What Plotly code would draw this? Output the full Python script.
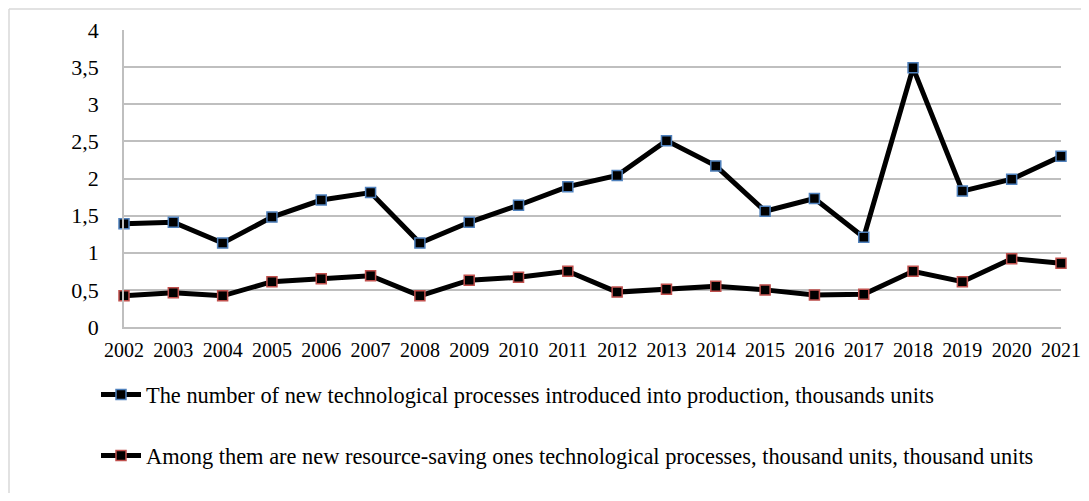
import plotly.graph_objects as go

years = list(range(2002, 2022))
processes = [1.39, 1.41, 1.13, 1.48, 1.71, 1.81, 1.13, 1.41, 1.64, 1.89,
             2.04, 2.51, 2.17, 1.56, 1.73, 1.21, 3.49, 1.83, 1.99, 2.30]
resource_saving = [0.42, 0.46, 0.42, 0.61, 0.65, 0.69, 0.42, 0.63, 0.67, 0.75,
                   0.47, 0.51, 0.55, 0.50, 0.43, 0.44, 0.75, 0.61, 0.92, 0.86]
y_ticks = [0, 0.5, 1, 1.5, 2, 2.5, 3, 3.5, 4]
y_tick_labels = ["0", "0,5", "1", "1,5", "2", "2,5", "3", "3,5", "4"]
name1 = "The number of new technological processes introduced into production, thousands units"
name2 = "Among them are new resource-saving ones technological processes, thousand units, thousand units"

font = "Liberation Serif, Times New Roman, serif"

# page body margin offset (browser default)
OFF = 8
FW, FH = 1089 - 2 * OFF, 501 - 2 * OFF
# plot area in page pixels
L, R, T, B = 124, 1061, 30, 327
W, H = R - L, B - T


def px(xp):
    return (xp - L) / W


def py(yp):
    return (B - yp) / H


fig = go.Figure()
fig.add_trace(go.Scatter(
    x=years, y=processes, name=name1, mode="lines+markers",
    line=dict(color="black", width=5),
    marker=dict(symbol="square", size=10, color="black",
                line=dict(color="#4F81BD", width=1.5)),
    cliponaxis=False, legend="legend"))
fig.add_trace(go.Scatter(
    x=years, y=resource_saving, name=name2, mode="lines+markers",
    line=dict(color="black", width=5),
    marker=dict(symbol="square", size=10, color="black",
                line=dict(color="#C0504D", width=1.5)),
    cliponaxis=False, legend="legend2"))

fig.update_layout(
    width=FW, height=FH,
    margin=dict(l=L - OFF, r=(FW + OFF) - R, t=T - OFF, b=(FH + OFF) - B,
                autoexpand=False),
    paper_bgcolor="white", plot_bgcolor="white",
    font=dict(family=font, size=20, color="black"),
    xaxis=dict(range=[2002, 2021], tickmode="array", tickvals=years,
               ticktext=[str(y) for y in years], showgrid=False,
               showline=True, linecolor="#BFBFBF", linewidth=1.5,
               zeroline=False, ticks="", tickfont=dict(size=20),
               ticklabelstandoff=4),
    yaxis=dict(range=[0, 4], tickmode="array", tickvals=y_ticks,
               ticktext=y_tick_labels, showgrid=True, gridcolor="#BFBFBF",
               gridwidth=1.5, showline=True, linecolor="#BFBFBF", linewidth=1.5,
               zeroline=False, ticks="", ticklabelstandoff=19,
               tickfont=dict(size=22)),
    legend=dict(x=px(96), y=py(395), xref="paper", yref="paper",
                xanchor="left", yanchor="middle", bgcolor="rgba(0,0,0,0)",
                font=dict(family=font, size=22.4), itemwidth=40),
    legend2=dict(x=px(96), y=py(456), xref="paper", yref="paper",
                 xanchor="left", yanchor="middle", bgcolor="rgba(0,0,0,0)",
                 font=dict(family=font, size=22.4), itemwidth=40),
    showlegend=True,
    shapes=[
        dict(type="line", xref="paper", yref="paper", x0=px(9), x1=px(1095),
             y0=py(9), y1=py(9), line=dict(color="#D9D9D9", width=1.5)),
        dict(type="line", xref="paper", yref="paper", x0=px(9), x1=px(9),
             y0=py(9), y1=py(510), line=dict(color="#D9D9D9", width=1.5)),
    ],
)

fig.write_html("out.html")
